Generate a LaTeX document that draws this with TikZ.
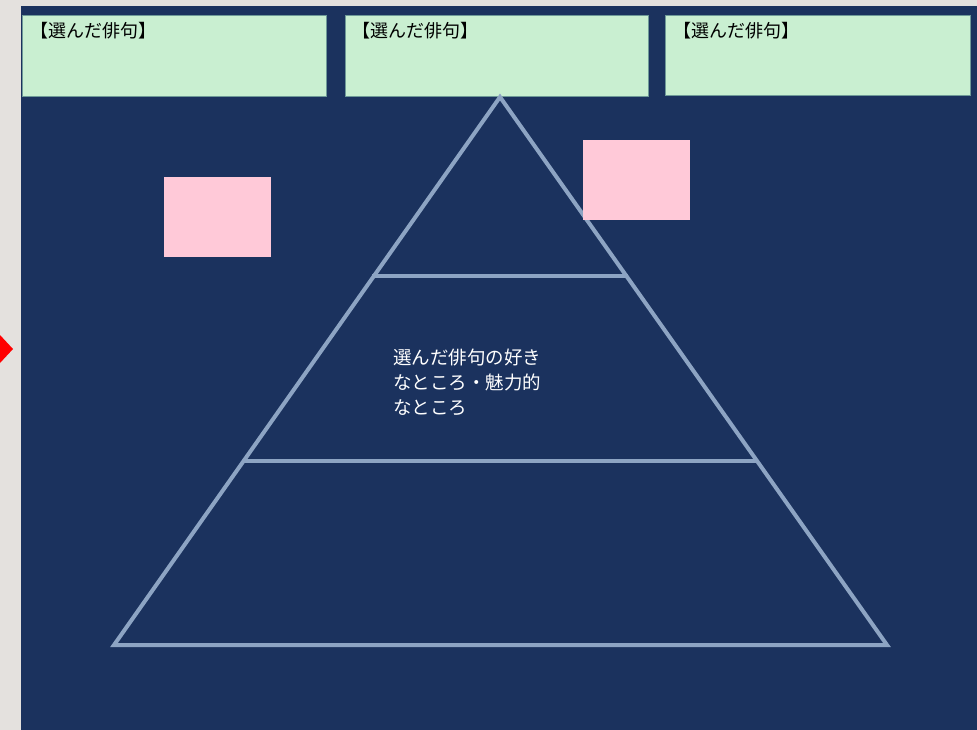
\documentclass[tikz,border=0pt]{standalone}
\usepackage{fontspec}
\newfontfamily\cjk{Noto Sans CJK JP}
\definecolor{navy}{HTML}{1B325E}
\definecolor{bggray}{HTML}{E4E1DE}
\definecolor{greenbox}{HTML}{C9EFD1}
\definecolor{greenedge}{HTML}{6E9A98}
\definecolor{pinkbox}{HTML}{FFC9D8}
\definecolor{pyrline}{HTML}{8DA4C3}
\tikzset{
  titlebox/.style={fill=greenbox, draw=greenedge, line width=0.6pt},
  notebox/.style={fill=pinkbox, draw=none},
  pyr/.style={draw=pyrline, line width=4pt, line join=miter},
  boxlabel/.style={anchor=north west, font=\cjk\fontsize{18}{21}\selectfont, text=black, inner sep=0pt},
}
\begin{document}
\begin{tikzpicture}[x=1pt,y=-1pt]
\useasboundingbox (0,0) rectangle (977,730);
\fill[bggray] (0,0) rectangle (977,730);
\fill[navy] (21,6) rectangle (977,730);
\fill[red] (0,335) -- (13,349) -- (0,363) -- cycle;
% title boxes
\path[titlebox] (22,15) rectangle (326,96);
\path[titlebox] (345,15) rectangle (648,96);
\path[titlebox] (665,15) rectangle (970,95);
\node[boxlabel] (t1) at (30,22) {【選んだ俳句】};
\node[boxlabel] (t2) at (352,22) {【選んだ俳句】};
\node[boxlabel] (t3) at (673,22) {【選んだ俳句】};
% pyramid
\coordinate (apex) at (500,97);
\coordinate (bl) at (114,645);
\coordinate (br) at (887,645);
\draw[pyr] (apex) -- (bl) -- (br) -- cycle;
\draw[pyr] (372,276) -- (628,276);
\draw[pyr] (244,461) -- (756,461);
% pink notes
\path[notebox] (164,177) rectangle (271,257);
\path[notebox] (583,140) rectangle (690,220);
% middle text
\node[anchor=north west, inner sep=0pt, align=left, text=white, font=\cjk\fontsize{18.5}{25}\selectfont] (mid) at (393,349) {選んだ俳句の好き\\なところ・魅力的\\なところ};
\end{tikzpicture}
\end{document}
